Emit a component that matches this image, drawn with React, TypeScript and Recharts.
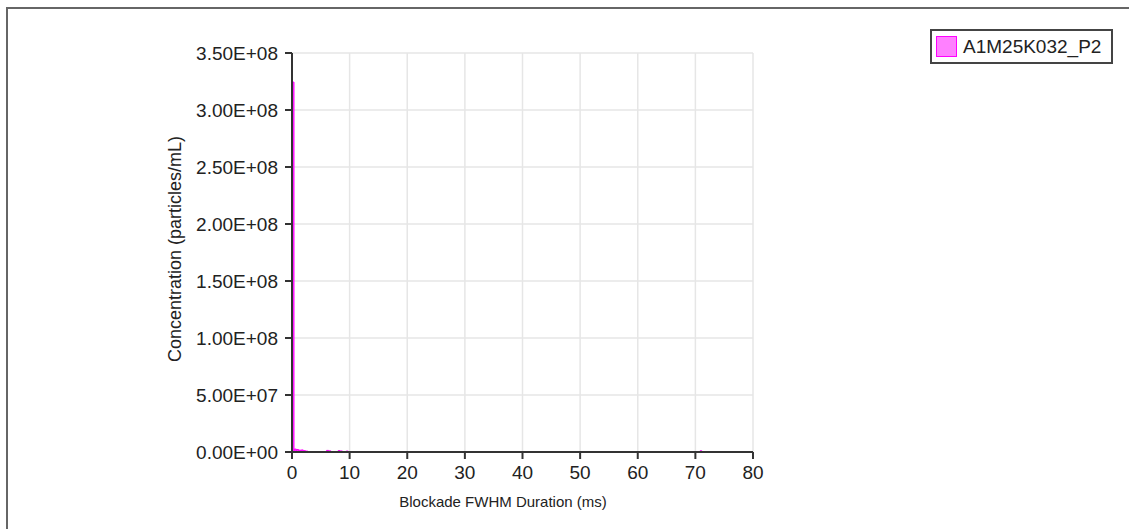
import React from "react";
import { BarChart, Bar, XAxis, YAxis, CartesianGrid, Label } from "recharts";

// histogram bins (ms) and concentration (particles/mL)
const binCenters = [0.2, 0.6, 1.0, 1.4, 1.8, 2.2, 2.6, 6.2, 6.6, 8.2, 8.6, 9.6, 71.0];
const concentration = [
  3.245e8, 2.6e6, 2.2e6, 1.6e6, 1.8e6, 1.2e6, 0.8e6, 1.4e6, 1.0e6, 1.2e6, 0.9e6, 0.8e6, 1.0e6,
];
const xTicks = [0, 10, 20, 30, 40, 50, 60, 70, 80];
const yTicks = [0, 5e7, 1e8, 1.5e8, 2e8, 2.5e8, 3e8, 3.5e8];
const seriesName = "A1M25K032_P2";

const data = binCenters.map((d, i) => ({ duration: d, value: concentration[i] }));

const FONT = '"Liberation Sans", Arial, sans-serif';
const TEXT = "#222";
const AXIS = "#333";

const sci = (v: number) => {
  if (v === 0) return "0.00E+00";
  const exp = Math.floor(Math.log10(Math.abs(v)));
  const mant = v / Math.pow(10, exp);
  return `${mant.toFixed(2)}E+${String(exp).padStart(2, "0")}`;
};

const LegendBox = () => (
  <div
    style={{
      position: "absolute",
      left: 930,
      top: 29,
      border: "2px solid #444",
      width: 183,
      height: 35,
      display: "flex",
      alignItems: "center",
      boxSizing: "border-box",
      fontFamily: FONT,
      fontSize: 19,
      color: TEXT,
      background: "#fff",
    }}
  >
    <span
      style={{
        display: "inline-block",
        width: 19,
        height: 19,
        background: "#ff80ff",
        border: "1.5px solid #ff00ff",
        marginLeft: 4,
        marginRight: 6,
      }}
    />
    {seriesName}
  </div>
);

export default function App() {
  return (
    <div style={{ position: "absolute", left: 0, top: 0, width: 1129, height: 529, background: "#fff" }}>
      <div
        style={{
          position: "absolute",
          left: 6,
          top: 7,
          width: 1123,
          height: 522,
          borderTop: "2px solid #666",
          borderLeft: "2px solid #666",
        }}
      />
      <BarChart
        width={1129}
        height={529}
        data={data}
        margin={{ top: 53, right: 376, bottom: 37, left: 172 }}
        style={{ position: "absolute", left: 0, top: 0 }}
      >
        <CartesianGrid stroke="#e6e6e6" strokeWidth={1.5} />
        <XAxis
          dataKey="duration"
          type="number"
          domain={[0, 80]}
          ticks={xTicks}
          height={40}
          tickSize={7}
          tickMargin={7}
          stroke={AXIS}
          strokeWidth={2}
          tick={{ fill: TEXT, fontSize: 19, fontFamily: FONT }}
        >
          <Label
            content={() => (
              <text x={503} y={507} textAnchor="middle" fill={TEXT} fontSize={15} fontFamily={FONT}>
                Blockade FWHM Duration (ms)
              </text>
            )}
          />
        </XAxis>
        <YAxis
          type="number"
          domain={[0, 3.5e8]}
          ticks={yTicks}
          width={120}
          tickSize={7}
          tickMargin={7}
          stroke={AXIS}
          strokeWidth={2}
          tickFormatter={sci}
          tick={{ fill: TEXT, fontSize: 19, fontFamily: FONT }}
        >
          <Label
            content={() => (
              <text
                x={175}
                y={249}
                textAnchor="middle"
                dominantBaseline="central"
                transform="rotate(-90 175 249)"
                fill={TEXT}
                fontSize={18}
                fontFamily={FONT}
              >
                Concentration (particles/mL)
              </text>
            )}
          />
        </YAxis>
        <Bar
          dataKey="value"
          name={seriesName}
          fill="#ff33ff"
          stroke="#ff00ff"
          strokeWidth={1}
          barSize={2}
          isAnimationActive={false}
        />
      </BarChart>
      <LegendBox />
    </div>
  );
}
